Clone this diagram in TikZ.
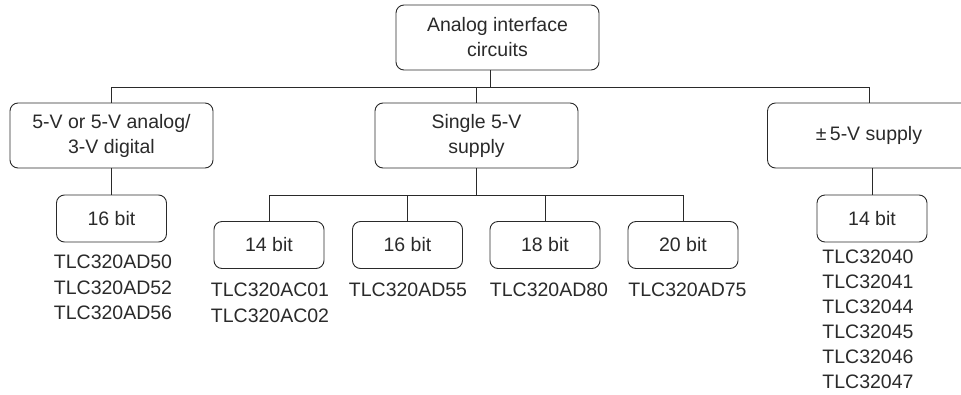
\documentclass[tikz,border=0pt]{standalone}
\usepackage{fontspec}
\setmainfont{Liberation Sans}
\definecolor{ink}{HTML}{2A2A2A}
\begin{document}
\begin{tikzpicture}[x=1pt,y=-1pt,
  every node/.style={text=ink},
  box/.style={draw=ink, line width=0.9pt, rounded corners=8pt, inner sep=0pt, align=center,
    font=\fontsize{19.5}{25}\selectfont},
  big/.style={box, minimum width=203pt, minimum height=65pt},
  small/.style={box, minimum width=110pt, minimum height=47pt},
  parts/.style={anchor=north, inner sep=0pt, align=center, font=\fontsize{19.5}{25.5}\selectfont},
  wire/.style={draw=ink, line width=0.9pt}]
\useasboundingbox (0,0) rectangle (961,394);
\clip (0,0) rectangle (961,394);
% level 0
\node[big] (top) at (497.5,37.5) {Analog interface\\circuits};
% level 1
\node[big] (left) at (111.5,135.5) {5-V or 5-V analog/\\3-V digital};
\node[big] (mid) at (476.5,135.5) {Single 5-V\\supply};
\node[big] (right) at (869,135.5) {±\,5-V supply};
% level 2
\node[small] (b16a) at (111.5,218.5) {16 bit};
\node[small] (b14) at (269,245) {14 bit};
\node[small] (b16) at (407.5,245) {16 bit};
\node[small] (b18) at (545,245) {18 bit};
\node[small] (b20) at (683,245) {20 bit};
\node[small] (b14r) at (872,218.5) {14 bit};
% part lists
\node[parts] (p1) at (113,255) {TLC320AD50\\TLC320AD52\\TLC320AD56};
\node[parts] (p2) at (270,283) {TLC320AC01\\TLC320AC02};
\node[parts] (p3) at (408,283) {TLC320AD55};
\node[parts] (p4) at (549,283) {TLC320AD80};
\node[parts] (p5) at (687.5,283) {TLC320AD75};
\node[parts, font=\fontsize{19.5}{25}\selectfont] (p6) at (868,250) {TLC32040\\TLC32041\\TLC32044\\TLC32045\\TLC32046\\TLC32047};
% connectors
\coordinate (j0) at (490,87);
\coordinate (j1) at (476.5,195);
\draw[wire] (top.south -| j0) -- (j0);
\draw[wire] (left.north) -- (left.north |- j0) -- (right.north |- j0) -- (right.north);
\draw[wire] (mid.north) -- (mid.north |- j0);
\draw[wire] (left.south) -- (b16a.north);
\draw[wire] (b14r.north |- right.south) -- (b14r.north);
\draw[wire] (mid.south) -- (j1);
\draw[wire] (b14.north) -- (b14.north |- j1) -- (b20.north |- j1) -- (b20.north);
\draw[wire] (b16.north) -- (b16.north |- j1);
\draw[wire] (b18.north) -- (b18.north |- j1);
\end{tikzpicture}
\end{document}
